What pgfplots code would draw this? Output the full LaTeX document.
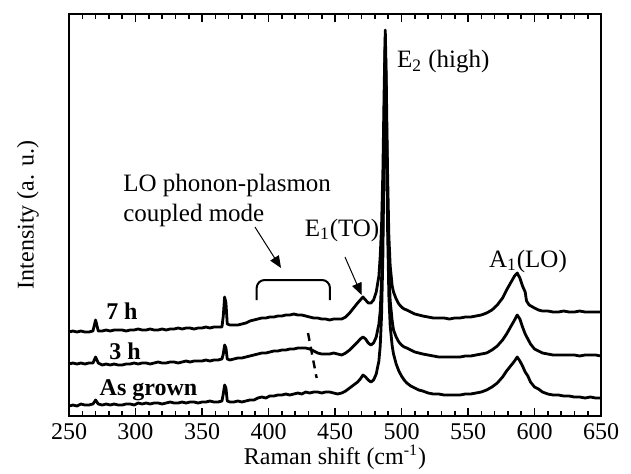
\documentclass[border=0pt]{standalone}
\usepackage{fontspec}
\setmainfont{Liberation Serif}
\usepackage{pgfplots}
\pgfplotsset{compat=1.18}
\usetikzlibrary{arrows.meta}

\pgfplotstableread{
x y
250 10
253 11
256 10
259 12
262 11
265 11
268 12
270 16
272 12
275 11
278 12
281 11
284 12
287 11
290 11
293 12
296 12
299 11
302 13
305 12
308 13
311 12
314 13
317 13
320 12
323 13
326 14
329 13
332 13
335 14
338 13
341 14
344 14
347 13
350 14
353 14
356 15
359 14
362 14
365 15
366 22
367 31
368 28
369 15
371 14
374 14
377 15
380 14
383 15
386 16
389 16
392 18
395 19
398 18
401 20
404 20
407 21
410 21
413 22
416 21
419 22
422 23
425 22
428 24
431 23
434 24
437 24
440 23
443 24
446 24
449 23
452 22
455 23
458 25
461 28
464 31
467 34
469 37
471 41
473 39
475 36
477 34
479 36
481 42
483 55
484 70
485 100
486 160
487 280
487.8 370
488.5 310
489.5 190
490.5 120
491.5 90
493 70
494 62
496 52
498 45
500 40
502 36
504 33
507 30
510 28
513 26
516 25
520 23
524 22
528 22
532 21
536 21
540 21
544 21
548 22
552 22
556 23
560 24
564 26
568 29
572 33
576 39
579 45
582 50
585 55
587 59
589 55
591 50
593 44
595 40
597 34
600 29
603 27
606 24
610 22
614 21
618 21
622 20
626 20
630 19
634 19
638 18
642 19
646 18
650 18
}\asgrown

\pgfplotstableread{
x y
250 52
253 53
256 52
259 53
262 52
265 53
268 53
270 59
272 53
275 51
278 52
281 51
284 52
287 51
290 51
293 52
296 52
299 53
302 52
305 53
308 53
311 52
314 53
317 54
320 53
323 53
326 54
329 54
332 53
335 54
338 55
341 54
344 55
347 55
350 55
353 56
356 55
359 56
362 56
365 57
366 62
367 71
368 68
369 57
371 56
374 57
377 58
380 58
383 59
386 60
389 61
392 62
395 63
398 63
401 64
404 65
407 65
410 66
413 66
416 67
419 67
422 68
425 68
428 68
431 67
434 65
437 63
440 62
443 62
446 62
449 63
452 62
455 61
458 63
461 66
464 70
467 74
469 77
471 79
473 77
475 73
477 71
479 73
481 79
483 92
484 105
485 135
486 190
487 300
487.8 378
488.5 320
489.5 210
490.5 145
491.5 115
493 95
494 86
496 79
498 74
500 71
502 69
504 68
507 66
510 64
513 63
516 62
520 61
524 60
528 59
532 59
536 59
540 59
544 59
548 60
552 60
556 61
560 62
564 63
568 66
572 70
576 76
579 82
582 89
585 96
587 101
589 97
591 89
593 82
595 77
597 72
600 67
603 65
606 63
610 62
614 61
618 61
622 61
626 61
630 61
634 60
638 61
642 61
646 61
650 60
}\threeh

\pgfplotstableread{
x y
250 84
253 85
256 84
259 85
262 84
265 84
268 85
270 96
272 85
275 85
278 86
281 85
284 86
287 86
290 86
293 85
296 86
299 86
302 87
305 86
308 86
311 87
314 86
317 86
320 87
323 86
326 87
329 87
332 88
335 87
338 88
341 88
344 87
347 88
350 88
353 89
356 88
359 89
362 89
365 89
366 100
367 119
368 113
369 92
371 91
374 91
377 91
380 92
383 93
386 95
389 96
392 97
395 98
398 98
401 99
404 99
407 100
410 100
413 101
416 101
419 102
422 101
425 101
428 100
431 99
434 98
437 98
440 97
443 97
446 96
449 97
452 97
455 97
458 99
461 103
464 108
467 113
469 116
471 119
473 116
475 113
477 113
479 116
481 124
483 140
484 160
485 190
486 245
487 330
487.8 386
488.5 340
489.5 245
490.5 180
491.5 150
493 130
494 124
496 117
498 112
500 109
502 107
504 106
507 104
510 102
513 101
516 100
520 99
524 98
528 98
532 98
536 97
540 98
544 98
548 99
552 99
556 100
560 101
564 103
568 106
572 111
576 118
579 126
582 133
585 140
587 143
589 138
591 130
593 124
594 115
596 111
600 108
603 106
606 105
610 105
614 104
618 104
622 105
626 104
630 104
634 105
638 104
642 104
646 104
650 104
}\sevenh

\begin{document}
\begin{tikzpicture}
\begin{axis}[
  scale only axis, width=266pt, height=201pt,
  xmin=250, xmax=650, ymin=0, ymax=402,
  xtick={250,300,...,650}, minor x tick num=4,
  ytick=\empty,
  tick align=inside,
  major tick length=4pt, minor tick length=2.5pt,
  every tick/.style={black, line width=0.8pt},
  axis line style={line width=1pt},
  /pgf/number format/assume math mode=true,
  ticklabel style={font=\fontsize{12}{14}\selectfont},
  xlabel={Raman shift (cm\textsuperscript{-1})},
  ylabel={Intensity (a. u.)},
  label style={font=\fontsize{12}{14}\selectfont},
  xlabel style={at={(axis description cs:0.5,-0.0547)}, anchor=north},
  ylabel style={at={(axis description cs:-0.0771,0.5)}, anchor=center},
]
\addplot[black, line width=1.4pt, line join=round] table[x=x,y=y] {\asgrown};
\addplot[black, line width=1.4pt, line join=round] table[x=x,y=y] {\threeh};
\addplot[black, line width=1.4pt, line join=round] table[x=x,y=y] {\sevenh};

\coordinate (bl) at (rel axis cs:0,0);
\coordinate (tr) at (rel axis cs:1,1);

\node[anchor=west, font=\fontsize{12.5}{15}\selectfont] at (axis cs:491.4,354) {E\textsubscript{2} (high)};
\node[font=\fontsize{12.5}{15}\selectfont] at (axis cs:455.3,186) {E\textsubscript{1}(TO)};
\node[font=\fontsize{12.5}{15}\selectfont] at (axis cs:595.1,155) {A\textsubscript{1}(LO)};
\node[anchor=west, align=left, inner sep=0pt, font=\fontsize{12.5}{15}\selectfont] at (axis cs:290.6,216) {LO phonon-plasmon\\coupled mode};

\node[font=\bfseries\fontsize{12}{14}\selectfont] at (axis cs:289.8,105) {7 h};
\node[font=\bfseries\fontsize{12}{14}\selectfont] at (axis cs:292.1,65) {3 h};
\node[font=\bfseries\fontsize{12}{14}\selectfont] at (axis cs:309.8,26) {As grown};

\draw[line width=0.5pt, -{Triangle[length=6pt,width=5pt]}] (axis cs:457.5,159) -- (axis cs:470,121);
\draw[line width=0.5pt, -{Triangle[length=6pt,width=5pt]}] (axis cs:389.8,189) -- (axis cs:409.4,148);
\draw[line width=1pt, rounded corners=4pt] (axis cs:391.1,116) -- (axis cs:391.1,136) -- (axis cs:446.2,136) -- (axis cs:446.2,116);
\draw[line width=1.2pt, dash pattern=on 4pt off 3pt] (axis cs:429.7,83) -- (axis cs:436.2,38);
\end{axis}
\pgfresetboundingbox
\path[use as bounding box] ([shift={(-34.5pt,-28.5pt)}]bl) rectangle ([shift={(15pt,7pt)}]tr);
\end{tikzpicture}
\end{document}
